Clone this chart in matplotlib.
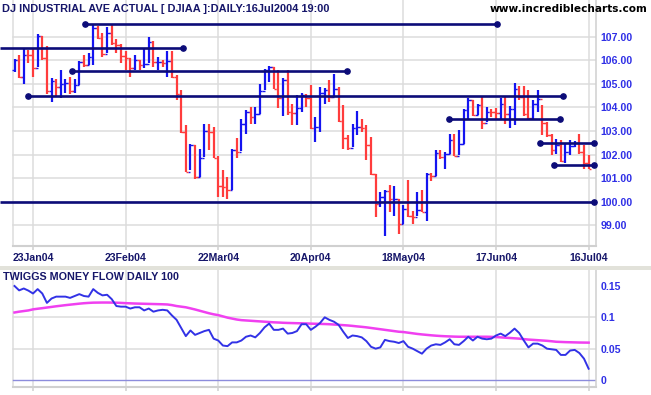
import numpy as np
import pandas as pd
import matplotlib
matplotlib.use('Agg')
import matplotlib.pyplot as plt
from matplotlib.collections import LineCollection
from matplotlib.patches import Rectangle

# ---------------- data ----------------
holidays = ['2004-01-19', '2004-02-16', '2004-04-09', '2004-05-31', '2004-06-11', '2004-07-05']
dates = pd.bdate_range('2004-01-16', '2004-07-16').drop(pd.to_datetime(holidays))

close = [106.01, 105.29, 106.24, 106.23, 105.68, 107.03, 106.10, 104.68, 105.10, 104.88,
         104.99, 105.05, 104.71, 104.96, 105.93, 105.79, 106.14, 107.38, 106.94, 106.28,
         107.15, 106.72, 106.65, 106.19, 106.10, 105.66, 106.02, 105.80, 105.84, 106.78,
         105.91, 105.93, 105.88, 105.96, 105.29, 104.57, 102.97, 101.28, 102.40, 101.03,
         101.85, 103.00, 102.96, 101.87, 100.65, 100.64, 100.48, 102.19, 102.13, 103.30,
         103.82, 103.58, 103.73, 104.71, 105.58, 105.71, 104.80, 104.42, 105.16, 103.81,
         103.78, 103.97, 104.52, 104.38, 103.14, 103.17, 104.61, 104.73, 104.45, 104.78,
         103.43, 102.72, 102.26, 103.14, 103.17, 103.11, 102.41, 101.17, 99.90, 100.19,
         100.45, 100.11, 100.13, 99.07, 99.69, 99.38, 99.37, 99.67, 99.58, 101.18,
         101.10, 102.05, 101.88, 102.03, 102.63, 101.96, 102.43, 103.91, 104.33, 103.68,
         104.10, 103.35, 103.80, 103.79, 103.78, 104.16, 103.72, 103.95, 104.80, 104.44,
         103.71, 103.57, 104.13, 104.35, 103.34, 102.83, 102.19, 102.40, 101.72, 102.13,
         102.38, 102.48, 102.09, 101.63, 101.40]

high = [106.05, 106.22, 106.50, 106.45, 106.46, 107.10, 107.05, 106.60, 105.25, 105.20,
        105.60, 105.20, 105.30, 105.20, 105.95, 106.22, 106.30, 107.50, 107.45, 107.14,
        107.40, 107.55, 106.90, 106.70, 106.40, 106.10, 106.22, 106.00, 106.50, 107.00,
        106.82, 106.15, 106.00, 106.40, 106.40, 105.37, 104.76, 103.24, 102.46, 102.39,
        102.25, 103.28, 103.31, 103.17, 101.92, 101.33, 101.07, 102.25, 102.72, 103.53,
        103.88, 104.02, 104.00, 105.00, 105.65, 105.77, 105.72, 105.58, 105.26, 105.58,
        104.16, 104.52, 104.63, 104.59, 104.97, 103.60, 104.87, 104.83, 105.16, 105.40,
        104.87, 104.09, 102.82, 103.30, 103.84, 103.50, 103.24, 102.75, 101.19, 100.40,
        100.48, 100.73, 100.65, 100.12, 99.84, 100.93, 99.62, 100.40, 100.48, 101.20,
        101.20, 102.20, 102.18, 102.11, 102.89, 102.86, 103.03, 103.95, 104.38, 104.33,
        104.16, 104.45, 104.02, 103.95, 103.98, 104.38, 104.45, 104.06, 105.02, 104.90,
        104.90, 104.73, 104.31, 104.73, 104.12, 103.38, 102.89, 102.67, 102.63, 102.46,
        102.60, 102.56, 102.89, 102.39, 101.97]

low = [105.50, 105.25, 105.00, 105.90, 105.30, 105.70, 106.00, 104.56, 104.25, 104.50,
       104.40, 104.60, 104.55, 104.60, 104.95, 105.70, 105.80, 105.80, 106.90, 106.15,
       106.29, 106.65, 106.30, 105.90, 105.60, 105.30, 105.58, 105.58, 105.68, 105.87,
       105.72, 105.58, 105.72, 105.30, 105.25, 104.30, 102.90, 101.26, 101.33, 100.97,
       101.04, 101.90, 102.18, 101.85, 100.19, 100.19, 100.12, 100.50, 101.87, 102.15,
       102.89, 103.30, 103.30, 103.74, 104.73, 105.09, 104.78, 103.98, 103.64, 103.67,
       103.24, 103.24, 103.81, 104.02, 103.10, 102.53, 102.96, 104.16, 104.23, 104.45,
       103.38, 102.25, 102.20, 102.32, 102.82, 102.96, 101.75, 101.15, 99.34, 99.77,
       98.56, 99.55, 99.40, 98.63, 99.07, 99.37, 99.06, 99.40, 99.55, 99.20,
       100.90, 101.10, 101.82, 101.40, 102.04, 101.94, 101.97, 102.46, 103.48, 103.62,
       103.67, 103.10, 103.38, 103.60, 103.45, 103.53, 103.31, 103.13, 103.27, 104.31,
       103.65, 103.50, 103.50, 103.81, 102.82, 102.75, 101.97, 102.04, 101.68, 101.65,
       101.97, 102.32, 102.04, 101.40, 101.37]

first_open = 105.60

money_flow = [0.150, 0.143, 0.146, 0.1426, 0.138, 0.145, 0.138, 0.123, 0.130, 0.133,
              0.133, 0.133, 0.131, 0.134, 0.137, 0.134, 0.133, 0.145, 0.139, 0.135,
              0.136, 0.129, 0.118, 0.117, 0.117, 0.114, 0.116, 0.116, 0.111, 0.114,
              0.109, 0.111, 0.112, 0.111, 0.103, 0.096, 0.083, 0.070, 0.079, 0.072,
              0.075, 0.078, 0.080, 0.066, 0.063, 0.055, 0.054, 0.060, 0.060, 0.063,
              0.069, 0.071, 0.068, 0.075, 0.084, 0.090, 0.080, 0.080, 0.082, 0.074,
              0.075, 0.078, 0.089, 0.089, 0.080, 0.085, 0.091, 0.100, 0.096, 0.093,
              0.088, 0.077, 0.067, 0.071, 0.070, 0.068, 0.062, 0.053, 0.050, 0.052,
              0.064, 0.062, 0.061, 0.059, 0.062, 0.053, 0.050, 0.046, 0.042, 0.050,
              0.055, 0.057, 0.056, 0.060, 0.065, 0.057, 0.056, 0.062, 0.069, 0.063,
              0.069, 0.066, 0.065, 0.066, 0.071, 0.074, 0.070, 0.0755, 0.082, 0.075,
              0.063, 0.052, 0.058, 0.058, 0.055, 0.050, 0.049, 0.048, 0.040, 0.040,
              0.047, 0.048, 0.043, 0.034, 0.018]

money_flow_signal = [0.1077, 0.109, 0.110, 0.111, 0.1127, 0.1137, 0.1146, 0.1156, 0.1166, 0.1176,
                     0.1185, 0.1194, 0.1202, 0.121, 0.1218, 0.1225, 0.123, 0.1234, 0.1235, 0.1236,
                     0.1236, 0.1235, 0.1233, 0.123, 0.1226, 0.1223, 0.122, 0.1218, 0.1216, 0.1214,
                     0.1212, 0.121, 0.1208, 0.1205, 0.1195, 0.118, 0.117, 0.116, 0.1143, 0.1125,
                     0.1105, 0.1085, 0.1065, 0.1048, 0.1035, 0.1015, 0.0995, 0.098, 0.0965, 0.0955,
                     0.095, 0.0945, 0.094, 0.0935, 0.093, 0.0925, 0.092, 0.0917, 0.0913, 0.091,
                     0.0908, 0.0906, 0.0904, 0.0902, 0.0899, 0.0897, 0.0895, 0.0893, 0.089, 0.0885,
                     0.088, 0.0875, 0.087, 0.0863, 0.0855, 0.0848, 0.084, 0.083, 0.082, 0.081,
                     0.080, 0.079, 0.078, 0.077, 0.0765, 0.0755, 0.0745, 0.0735, 0.0727, 0.072,
                     0.0713, 0.0707, 0.0702, 0.0698, 0.0695, 0.0692, 0.069, 0.069, 0.069, 0.069,
                     0.069, 0.069, 0.069, 0.0688, 0.0685, 0.068, 0.0675, 0.067, 0.0665, 0.066,
                     0.0652, 0.0645, 0.064, 0.0635, 0.063, 0.0625, 0.0618, 0.061, 0.0607, 0.0604,
                     0.0602, 0.060, 0.0598, 0.0597, 0.0596]

tick_dates = ['2004-01-23', '2004-02-23', '2004-03-22', '2004-04-20',
              '2004-05-18', '2004-06-17', '2004-07-16']
price_ticks = [99, 100, 101, 102, 103, 104, 105, 106, 107]
flow_ticks = [0, 0.05, 0.1, 0.15]
flow_tick_labels = ['0', '0.05', '0.1', '0.15']

# support / resistance lines: level, start bar, end bar (None = from chart edge)
line_levels = [107.54, 106.53, 105.55, 104.48, 103.50, 102.50, 101.54, 100.00]
line_starts = [15.2, None, 12.35, 2.98, 93.9, 113.5, 116.6, None]
line_ends = [104.2, 36.46, 71.75, 118.5, 117.8, 125.2, 125.2, 125.2]

# ---------------- figure ----------------
W, H = 651, 395
fig = plt.figure(figsize=(W / 100, H / 100), dpi=100)
fig.patch.set_facecolor('white')
FONT = ['Liberation Sans', 'DejaVu Sans']
NAVY = '#16166a'
LABEL_BLUE = '#2f2fe6'
GRID = '#dcdcdc'
BAR_BLUE = '#1414f0'
BAR_RED = '#ff3c3c'
LINE_NAVY = '#0c0c78'


def fx(px):
    return px / W


def fy(py):
    return 1 - py / H


ax = fig.add_axes([0, fy(246), fx(596), 246 / H])
ax2 = fig.add_axes([0, fy(386.7), fx(596), (386.7 - 270) / H])

n = len(close)
x = np.arange(n)
xl = (-3.132, 125.59)
left_border = -0.39
tick_pos = [dates.get_loc(pd.Timestamp(d)) for d in tick_dates]
tick_lab = [pd.Timestamp(d).strftime('%d%b%y') for d in tick_dates]

for a in (ax, ax2):
    a.set_xlim(*xl)
    for s in ('top', 'left', 'bottom'):
        a.spines[s].set_visible(False)
    a.spines['right'].set_color('#d0d0d0')
    a.spines['right'].set_linewidth(1.1)
    a.set_facecolor('none')
    a.yaxis.tick_right()
    a.tick_params(axis='y', length=0, pad=3, labelsize=7.6, labelcolor=LABEL_BLUE)
    a.tick_params(axis='x', length=3, width=1.1, color='#d0d0d0', pad=2.2,
                  labelsize=7.6, labelcolor=NAVY)
    a.set_xticks(tick_pos)
    for p in tick_pos + [left_border]:
        a.axvline(p, color=GRID, lw=1.1, zorder=0)
    a.plot([left_border, xl[1]], [0, 0], transform=a.get_xaxis_transform(),
           color='#d0d0d0', lw=1.5, clip_on=False, zorder=1)

# ---- upper panel ----
ax.set_ylim(98.122, 108.557)
ax.set_yticks(price_ticks)
ax.set_yticklabels([f'{v:.2f}' for v in price_ticks])
ax.set_xticklabels(tick_lab)
for t in ax.get_yticklabels() + ax.get_xticklabels():
    t.set_fontfamily(FONT)
    t.set_fontweight('bold')
for v in price_ticks:
    ax.plot([left_border, xl[1]], [v, v], color=GRID, lw=1.1, zorder=0)

opens = [first_open] + close[:-1]
cols = [BAR_BLUE if c >= o else BAR_RED for c, o in zip(close, opens)]
bars = [[(i, l), (i, h)] for i, l, h in zip(x, low, high)]
ax.add_collection(LineCollection(bars, colors=cols, linewidths=1.6, zorder=2))
oticks = [[(i - 0.55, o), (i, o)] for i, o in zip(x, opens)]
cticks = [[(i, c), (i + 0.55, c)] for i, c in zip(x, close)]
ax.add_collection(LineCollection(oticks, colors=cols, linewidths=1.0, zorder=2))
ax.add_collection(LineCollection(cticks, colors=cols, linewidths=1.0, zorder=2))

for lev, s, e in zip(line_levels, line_starts, line_ends):
    xs = xl[0] if s is None else s
    ax.plot([xs, e], [lev, lev], color=LINE_NAVY, lw=1.9, zorder=3,
            solid_capstyle='butt', clip_on=False)
    ends = [e] if s is None else [s, e]
    ax.plot(ends, [lev] * len(ends), 'o', color=LINE_NAVY, ms=3.8, zorder=4,
            clip_on=False)

# ---- lower panel ----
ax2.set_ylim(-0.0107, 0.1755)
ax2.set_yticks(flow_ticks)
ax2.set_yticklabels(flow_tick_labels)
for t in ax2.get_yticklabels():
    t.set_fontfamily(FONT)
    t.set_fontweight('bold')
ax2.set_xticklabels([])
for v in flow_ticks[1:3]:
    ax2.plot([left_border, xl[1]], [v, v], color=GRID, lw=1.1, zorder=0)
ax2.plot([left_border, xl[1]], [0, 0], color='#8c8cdc', lw=1.0, zorder=1)
ax2.plot(x, money_flow_signal, color='#f040f0', lw=1.8, zorder=2)
ax2.plot(x, money_flow, color='#3232e6', lw=1.4, zorder=3)

# ---- separators and titles ----
fig.add_artist(Rectangle((0, fy(270)), 1, 3.6 / H, transform=fig.transFigure,
                         facecolor='#e2e2da', edgecolor='none', zorder=5))
fig.text(fx(2), fy(8.5), 'DJ INDUSTRIAL AVE ACTUAL [ DJIAA ]:DAILY:16Jul2004 19:00',
         ha='left', va='center', fontsize=7.9, fontweight='bold', color=NAVY,
         family=FONT)
fig.text(fx(647), fy(8.5), 'www.incrediblecharts.com', ha='right', va='center',
         fontsize=7.6, fontweight='bold', color='black',
         family=['DejaVu Sans'])
fig.text(fx(3), fy(276.5), 'TWIGGS MONEY FLOW DAILY 100', ha='left', va='center',
         fontsize=7.75, fontweight='bold', color=NAVY, family=FONT)

fig.savefig('out.png', dpi=100, facecolor='white')
